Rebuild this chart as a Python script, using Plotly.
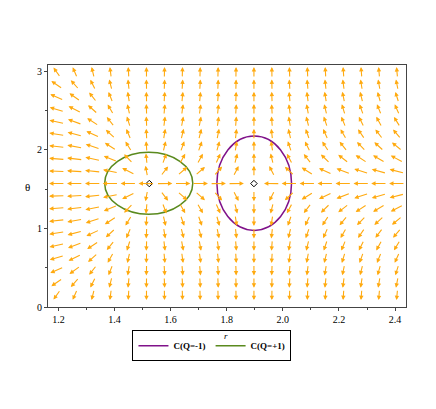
import numpy as np
import plotly.graph_objects as go

# grid of the direction field (columns in r, rows in theta)
r_cols = [1.195, 1.259, 1.323, 1.386, 1.450, 1.514, 1.578, 1.642, 1.705, 1.769,
          1.833, 1.897, 1.961, 2.024, 2.088, 2.152, 2.216, 2.280, 2.343, 2.407]
theta_rows = [0.157, 0.314, 0.471, 0.628, 0.785, 0.942, 1.100, 1.257, 1.414, 1.571,
              1.728, 1.885, 2.042, 2.199, 2.356, 2.513, 2.670, 2.827, 2.985]
# radial strength per column
radial_strength = [-4.50, -2.70, -1.53, -0.78, -0.31, -0.03, 0.12, 0.18, 0.18, 0.14,
                   0.08, 0.0, -0.08, -0.17, -0.25, -0.33, -0.41, -0.49, -0.55, -0.61]

# light rings and the contours around them
ring_r = [1.524, 1.897]
ring_theta = [1.571, 1.571]
contour_names = ["C(Q=-1)", "C(Q=+1)"]
contour_center_r = [1.898, 1.522]
contour_center_theta = [1.575, 1.575]
contour_semi_r = [0.133, 0.157]
contour_semi_theta = [0.60, 0.395]
contour_colors = ["#80128A", "#5A8A1E"]

arrow_color = "#FFAA10"
dr = r_cols[1] - r_cols[0]
dth = theta_rows[1] - theta_rows[0]

fig = go.Figure()

annotations = []
for k, r in zip(radial_strength, r_cols):
    for th in theta_rows:
        gx = k * 0.693 * np.sin(th)
        gy = -np.cos(th)
        n = np.hypot(gx, gy)
        if n < 1e-2:
            continue
        ddx = 0.88 * dr * gx / n
        ddy = 0.88 * dth * gy / n
        annotations.append(dict(
            x=r + ddx / 2, y=th + ddy / 2, ax=r - ddx / 2, ay=th - ddy / 2,
            xref="x", yref="y", axref="x", ayref="y", text="",
            showarrow=True, arrowhead=2, arrowsize=0.8, arrowwidth=1.1,
            arrowcolor=arrow_color))

shapes = []
for i in range(len(contour_names)):
    shapes.append(dict(
        type="circle", xref="x", yref="y",
        x0=contour_center_r[i] - contour_semi_r[i],
        x1=contour_center_r[i] + contour_semi_r[i],
        y0=contour_center_theta[i] - contour_semi_theta[i],
        y1=contour_center_theta[i] + contour_semi_theta[i],
        line=dict(color=contour_colors[i], width=1.5)))
    fig.add_trace(go.Scatter(
        x=[None], y=[None], mode="lines", name="<b>" + contour_names[i] + "</b>",
        line=dict(color=contour_colors[i], width=1.5), showlegend=True))

fig.add_trace(go.Scatter(
    x=ring_r, y=ring_theta, mode="markers", showlegend=False,
    marker=dict(symbol="diamond-open", size=5, color="black", line=dict(width=1))))

annotations.append(dict(text="θ", xref="paper", yref="paper", x=-0.07, y=0.495,
                        showarrow=False, font=dict(size=11, color="black")))
annotations.append(dict(text="<i>r</i>", xref="paper", yref="paper", x=0.497, y=-0.092,
                        yanchor="top", showarrow=False, font=dict(size=9, color="black")))

# page body keeps an 8px margin, so the figure is 8px smaller on each side
fig.update_layout(
    width=428, height=401,
    margin=dict(l=40, r=30, t=57, b=102),
    plot_bgcolor="white", paper_bgcolor="white",
    font=dict(family="Liberation Serif", size=10, color="black"),
    shapes=shapes, annotations=annotations,
    legend=dict(orientation="h", x=0.458, xanchor="center", y=-0.16, yanchor="middle",
                bordercolor="black", borderwidth=1, font=dict(size=9),
                itemwidth=30, tracegroupgap=0),
)
fig.update_xaxes(range=[1.163, 2.439], showgrid=False, zeroline=False,
                 showline=True, linecolor="#444", mirror=True,
                 tickvals=[1.2, 1.4, 1.6, 1.8, 2.0, 2.2, 2.4],
                 ticktext=["1.2", "1.4", "1.6", "1.8", "2.0", "2.2", "2.4"],
                 ticks="outside", ticklen=3, tickcolor="#444",
                 minor=dict(tickvals=[1.3, 1.5, 1.7, 1.9, 2.1, 2.3], ticks="outside",
                            ticklen=2, tickcolor="#444"))
fig.update_yaxes(range=[0, 3.08], showgrid=False, zeroline=False,
                 showline=True, linecolor="#444", mirror=True,
                 tickvals=[0, 1, 2, 3], ticks="outside", ticklen=3, tickcolor="#444",
                 minor=dict(tickvals=[0.5, 1.5, 2.5], ticks="outside",
                            ticklen=2, tickcolor="#444"))

fig.write_html("out.html")
